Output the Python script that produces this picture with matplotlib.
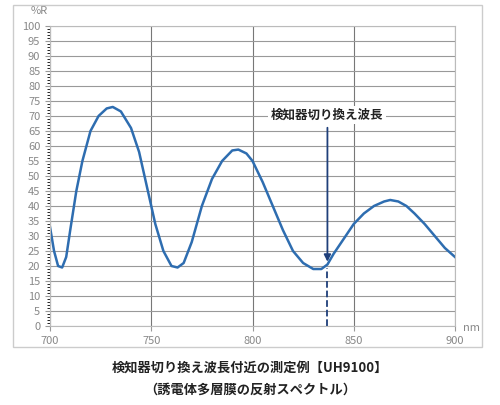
import matplotlib
matplotlib.use("Agg")
import matplotlib.pyplot as plt
from matplotlib.patches import Rectangle

plt.rcParams['font.family'] = ['Noto Sans CJK JP', 'DejaVu Sans']

wavelength = [700, 702, 704, 706, 708, 710, 713, 716, 720, 724, 728, 731, 735, 740,
              744, 748, 752, 756, 760, 763, 766, 770, 775, 780, 785, 790, 793, 797,
              800, 805, 810, 815, 820, 825, 830, 834, 837, 840, 845, 850, 855, 860,
              865, 868, 872, 876, 880, 885, 890, 895, 900]
reflectance = [33, 25, 20, 19.5, 23, 32, 45, 55, 65, 70, 72.5, 73, 71.5, 66,
               58, 46, 34, 25, 20, 19.5, 21, 28, 40, 49, 55, 58.5, 58.8, 57.5,
               55, 48, 40, 32, 25, 21, 19, 19, 20.5, 24, 29, 34, 37.5, 40,
               41.5, 42, 41.5, 40, 37.5, 34, 30, 26, 23]
switch_nm = 837
switch_label = "検知器切り換え波長"
caption = "検知器切り換え波長付近の測定例【UH9100】\n（誘電体多層膜の反射スペクトル）"

fig = plt.figure(figsize=(5.0, 4.05), dpi=100)
fig.patches.append(Rectangle((0.026, 0.143), 0.938, 0.845, transform=fig.transFigure,
                             fill=False, edgecolor="#cccccc", linewidth=1))
ax = fig.add_axes([0.1, 0.195, 0.81, 0.741])
ax.plot(wavelength, reflectance, color="#2e6db0", linewidth=1.8)
ax.set_xlim(700, 900)
ax.set_ylim(0, 100)
ax.set_xticks([700, 750, 800, 850, 900])
ax.set_yticks(range(0, 101, 5))
ax.set_yticks(range(0, 101, 1), minor=True)
ax.tick_params(colors="#999999", labelsize=8, labelcolor="#888888")
ax.grid(axis="y", which="major", color="#999999", linewidth=0.8)
ax.grid(axis="x", which="major", color="#777777", linewidth=0.8)
for s in ax.spines.values():
    s.set_color("#bbbbbb")
ax.text(-0.005, 1.04, "%R", transform=ax.transAxes, ha="right", fontsize=8, color="#888888")
ax.text(1.02, -0.015, "nm", transform=ax.transAxes, ha="left", fontsize=8, color="#888888")

ax.annotate("", xy=(switch_nm, 20.5), xytext=(switch_nm, 67),
            arrowprops=dict(arrowstyle="-|>", color="#1f3f7a", lw=1.3))
ax.plot([switch_nm, switch_nm], [0, 19.5], color="#1f3f7a", linestyle="--", linewidth=1.3)
ax.text(switch_nm, 70.3, switch_label, ha="center", va="center", fontsize=9,
        fontweight="bold", color="#222222",
        bbox=dict(facecolor="white", edgecolor="none", pad=2))

fig.text(0.5, 0.065, caption, ha="center", va="center", fontsize=9.5,
         fontweight="bold", color="#222222", linespacing=1.7)
fig.savefig("out.png", dpi=100)
